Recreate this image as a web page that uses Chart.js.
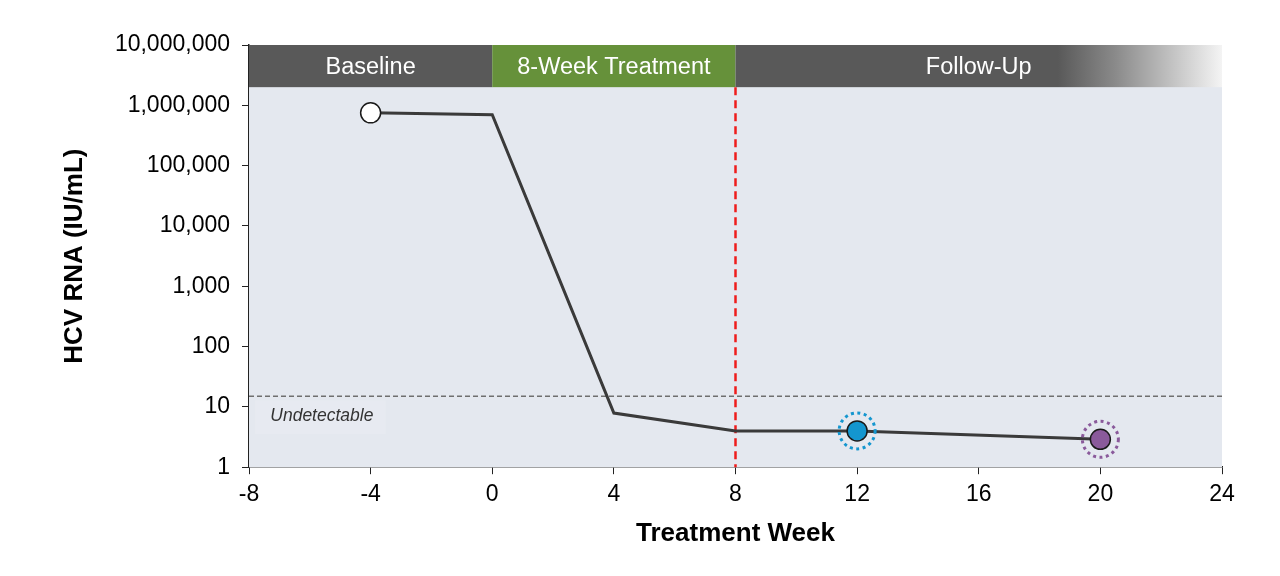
<!DOCTYPE html>
<html>
<head>
<meta charset="utf-8">
<script src="https://cdn.jsdelivr.net/npm/chart.js@4.4.0/dist/chart.umd.min.js"></script>
<style>
  html, body { margin: 0; padding: 0; background: #fff; }
  #wrap { width: 1280px; height: 576px; position: relative; }
</style>
</head>
<body>
<div id="wrap"><canvas id="hcvChart"></canvas></div>
<script>
// data
const weeks = [-4, 0, 4, 8, 12, 20];
const hcvRna = [750000, 700000, 7.9, 4, 4, 2.9];
const pointRadii = [10, 0, 0, 0, 10, 10];
const pointFills = ['#ffffff', '#3a3a3a', '#3a3a3a', '#3a3a3a', '#1496cf', '#8a5a9b'];
const ringColors = [null, null, null, null, '#1496cf', '#8a5a9b'];

const yTicks = [1, 10, 100, 1000, 10000, 100000, 1000000, 10000000];
const xTicks = [-8, -4, 0, 4, 8, 12, 16, 20, 24];

// header phases (week ranges)
const phaseNames = ['Baseline', '8-Week Treatment', 'Follow-Up'];
const phaseStart = [-8, 0, 8];
const phaseEnd = [0, 8, 24];
const phaseColors = ['#595959', '#66913a', '#595959'];
const bandBottom = 2000000;

const lloq = 15;        // undetectable threshold
const treatmentEnd = 8; // red dashed line

const overlay = {
  id: 'overlay',
  beforeDatasetsDraw(chart) {
    const { ctx, chartArea: a, scales: { x, y } } = chart;
    ctx.save();
    // plot background
    ctx.fillStyle = '#e4e8ef';
    ctx.fillRect(a.left, a.top, a.right - a.left, a.bottom - a.top);

    // header band
    const bTop = y.getPixelForValue(10000000);
    const bBot = y.getPixelForValue(bandBottom);
    phaseNames.forEach((name, i) => {
      const x0 = x.getPixelForValue(phaseStart[i]);
      const x1 = x.getPixelForValue(phaseEnd[i]);
      if (i === 2) {
        const gx = x.getPixelForValue(18.6);
        const g = ctx.createLinearGradient(gx, 0, x1, 0);
        g.addColorStop(0, phaseColors[i]);
        g.addColorStop(0.35, '#8a8a8a');
        g.addColorStop(1, '#f4f4f4');
        ctx.fillStyle = g;
        ctx.fillRect(x0, bTop, x1 - x0, bBot - bTop);
      } else {
        ctx.fillStyle = phaseColors[i];
        ctx.fillRect(x0, bTop, x1 - x0, bBot - bTop);
      }
      ctx.fillStyle = '#ffffff';
      ctx.font = '23.5px "Liberation Sans", Arial, sans-serif';
      ctx.textAlign = 'center';
      ctx.textBaseline = 'middle';
      const cx = i === 2 ? x.getPixelForValue(16) : (x0 + x1) / 2;
      ctx.fillText(name, cx, (bTop + bBot) / 2 + 1);
    });

    // undetectable label box
    const ly = y.getPixelForValue(lloq);
    ctx.fillStyle = 'rgba(255,255,255,0.12)';
    const lx0 = x.getPixelForValue(-7.8);
    const lx1 = x.getPixelForValue(-3.5);
    ctx.fillRect(lx0, ly + 4, lx1 - lx0, 34);
    ctx.fillStyle = '#333333';
    ctx.font = 'italic 17.5px "Liberation Sans", Arial, sans-serif';
    ctx.textAlign = 'left';
    ctx.textBaseline = 'middle';
    ctx.fillText('Undetectable', x.getPixelForValue(-7.3), ly + 20);

    // undetectable threshold
    ctx.strokeStyle = '#6f6f6f';
    ctx.lineWidth = 1.5;
    ctx.setLineDash([5, 3]);
    ctx.beginPath();
    ctx.moveTo(a.left, ly);
    ctx.lineTo(a.right, ly);
    ctx.stroke();

    // end of treatment
    const rx = x.getPixelForValue(treatmentEnd);
    ctx.strokeStyle = '#ee1c1c';
    ctx.lineWidth = 2.5;
    ctx.setLineDash([8, 5]);
    ctx.beginPath();
    ctx.moveTo(rx, bBot);
    ctx.lineTo(rx, a.bottom);
    ctx.stroke();
    ctx.restore();
  },
  afterDatasetsDraw(chart) {
    const { ctx, scales: { x, y } } = chart;
    ctx.save();
    ctx.lineWidth = 3;
    ctx.setLineDash([3, 3.5]);
    weeks.forEach((w, i) => {
      if (!ringColors[i]) return;
      ctx.strokeStyle = ringColors[i];
      ctx.beginPath();
      ctx.arc(x.getPixelForValue(w), y.getPixelForValue(hcvRna[i]), 18, 0, Math.PI * 2);
      ctx.stroke();
    });
    ctx.restore();
  }
};

new Chart(document.getElementById('hcvChart'), {
  type: 'line',
  data: {
    datasets: [{
      data: weeks.map((w, i) => ({ x: w, y: hcvRna[i] })),
      borderColor: '#3a3a3a',
      borderWidth: 3,
      pointRadius: pointRadii,
      pointBackgroundColor: pointFills,
      pointBorderColor: '#1a1a1a',
      pointBorderWidth: 1.5,
      tension: 0
    }]
  },
  options: {
    responsive: true,
    maintainAspectRatio: false,
    animation: false,
    layout: { padding: { left: 55, right: 58, top: 45, bottom: 23 } },
    plugins: { legend: { display: false }, tooltip: { enabled: false } },
    scales: {
      x: {
        type: 'linear',
        min: -8,
        max: 24,
        afterBuildTicks: s => { s.ticks = xTicks.map(v => ({ value: v })); },
        grid: { drawOnChartArea: false, color: '#222', tickLength: 7 },
        border: { color: '#222', width: 1.5 },
        ticks: { color: '#000', font: { family: 'Liberation Sans', size: 23 }, padding: 7 },
        title: {
          display: true,
          text: 'Treatment Week',
          color: '#000',
          font: { family: 'Liberation Sans', size: 26, weight: 'bold' },
          padding: { top: 2 }
        }
      },
      y: {
        type: 'logarithmic',
        min: 1,
        max: 10000000,
        afterBuildTicks: s => { s.ticks = yTicks.map(v => ({ value: v })); },
        afterFit: s => { s.width = 194; },
        grid: { drawOnChartArea: false, color: '#222', tickLength: 7 },
        border: { color: '#222', width: 1.5 },
        ticks: {
          color: '#000',
          font: { family: 'Liberation Sans', size: 23 },
          padding: 12,
          callback: v => v.toLocaleString('en-US')
        },
        title: {
          display: true,
          text: 'HCV RNA (IU/mL)',
          color: '#000',
          font: { family: 'Liberation Sans', size: 26, weight: 'bold' },
          padding: { bottom: 0 }
        }
      }
    }
  },
  plugins: [overlay]
});
</script>
</body>
</html>
